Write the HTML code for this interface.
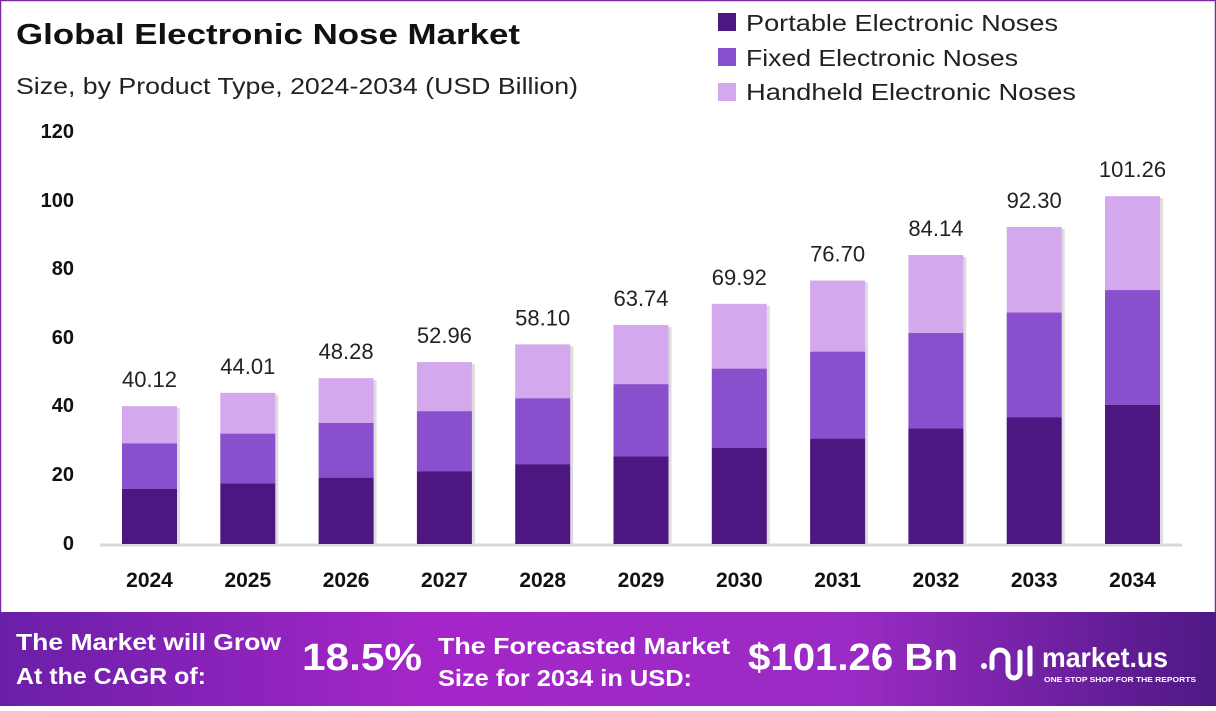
<!DOCTYPE html>
<html><head><meta charset="utf-8"><style>
body{margin:0;width:1216px;height:706px;overflow:hidden;background:#fff;font-family:"Liberation Sans",sans-serif}
</style></head><body>
<svg width="1216" height="706" viewBox="0 0 1216 706" xmlns="http://www.w3.org/2000/svg" font-family="Liberation Sans, sans-serif">
<defs>
<linearGradient id="bn" x1="0" x2="1" y1="0" y2="0">
<stop offset="0" stop-color="#6a1fa8"/><stop offset="0.35" stop-color="#a526c8"/><stop offset="0.7" stop-color="#9a2bc4"/><stop offset="1" stop-color="#4e1885"/>
</linearGradient>
</defs>
<rect x="0.5" y="0.5" width="1215" height="705" fill="#fff" stroke="#7a2aa8" stroke-width="1.5"/>
<text x="16" y="44" font-size="29" font-weight="bold" fill="#111" textLength="504" lengthAdjust="spacingAndGlyphs">Global Electronic Nose Market</text>
<text x="16" y="94" font-size="23" fill="#222" textLength="562" lengthAdjust="spacingAndGlyphs">Size, by Product Type, 2024-2034 (USD Billion)</text>
<rect x="718" y="13" width="18" height="18" fill="#4e1680"/>
<text x="746" y="31" font-size="23" fill="#222" textLength="312" lengthAdjust="spacingAndGlyphs">Portable Electronic Noses</text>
<rect x="718" y="48" width="18" height="18" fill="#8a4fcc"/>
<text x="746" y="66" font-size="23" fill="#222" textLength="272" lengthAdjust="spacingAndGlyphs">Fixed Electronic Noses</text>
<rect x="718" y="83" width="18" height="18" fill="#d4a8ec"/>
<text x="746" y="100" font-size="23" fill="#222" textLength="330" lengthAdjust="spacingAndGlyphs">Handheld Electronic Noses</text>
<g font-size="20" font-weight="bold" fill="#111" text-anchor="end">
<text x="74" y="138">120</text><text x="74" y="207">100</text><text x="74" y="275">80</text><text x="74" y="344">60</text><text x="74" y="412">40</text><text x="74" y="481">20</text><text x="74" y="550">0</text>
</g>
<line x1="100" y1="545" x2="1182" y2="545" stroke="#d8d8d8" stroke-width="3"/>
<g id="bars"></g>
<rect x="0" y="612" width="1216" height="94" fill="url(#bn)"/>
<g fill="#fff" font-weight="bold">
<text x="16" y="650" font-size="23" textLength="265" lengthAdjust="spacingAndGlyphs">The Market will Grow</text>
<text x="16" y="684" font-size="23" textLength="190" lengthAdjust="spacingAndGlyphs">At the CAGR of:</text>
<text x="302" y="670" font-size="38" textLength="120" lengthAdjust="spacingAndGlyphs">18.5%</text>
<text x="438" y="654" font-size="23" textLength="292" lengthAdjust="spacingAndGlyphs">The Forecasted Market</text>
<text x="438" y="686" font-size="23" textLength="254" lengthAdjust="spacingAndGlyphs">Size for 2034 in USD:</text>
<text x="748" y="670" font-size="38" textLength="210" lengthAdjust="spacingAndGlyphs">$101.26 Bn</text>
<text x="1042" y="667" font-size="28" textLength="126" lengthAdjust="spacingAndGlyphs">market.us</text>
<text x="1044" y="682" font-size="7" textLength="152" lengthAdjust="spacingAndGlyphs">ONE STOP SHOP FOR THE REPORTS</text>
</g>
<g fill="none" stroke="#fff" stroke-width="5" stroke-linecap="round">
<path d="M992 668 v-10 a8 8 0 0 1 16 0 v14 a6 6 0 0 0 12 0 v-20"/>
<path d="M1030 648 v26"/>
</g>
<circle cx="984" cy="666" r="3" fill="#fff"/>
</svg>
<script>
var vals=[40.12,44.01,48.28,52.96,58.10,63.74,69.92,76.70,84.14,92.30,101.26];
var g=document.getElementById('bars'),s='';
var base=544,k=3.435;
vals.forEach(function(v,i){
 var x=122+i*98.3,w=55;
 var p=v*0.40,f=v*0.33;
 var yt=base-v*k,yp=base-p*k,yf=base-(p+f)*k;
 s+='<rect x="'+(x+3)+'" y="'+(yt+2)+'" width="'+w+'" height="'+(base-yt)+'" fill="#ddd"/>';
 s+='<rect x="'+x+'" y="'+yt+'" width="'+w+'" height="'+(yf-yt)+'" fill="#d4a8ec"/>';
 s+='<rect x="'+x+'" y="'+yf+'" width="'+w+'" height="'+(yp-yf)+'" fill="#8a4fcc"/>';
 s+='<rect x="'+x+'" y="'+yp+'" width="'+w+'" height="'+(base-yp)+'" fill="#4e1680"/>';
 s+='<text x="'+(x+w/2)+'" y="'+(yt-19)+'" font-size="22" fill="#222" text-anchor="middle">'+v.toFixed(2)+'</text>';
 s+='<text x="'+(x+w/2)+'" y="587" font-size="21" font-weight="bold" fill="#111" text-anchor="middle">'+(2024+i)+'</text>';
});
g.innerHTML=s;
</script>
</body></html>
